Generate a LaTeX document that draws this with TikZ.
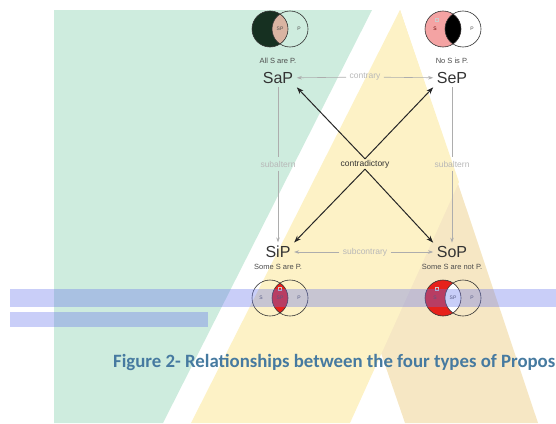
\documentclass[tikz,border=0pt]{standalone}
\usepackage{fontspec}
\setmainfont{Liberation Sans}
\newfontfamily\capfont{Carlito}
\usetikzlibrary{arrows.meta}

\definecolor{mint}{RGB}{206,236,222}
\definecolor{lightsand}{RGB}{253,242,198}
\definecolor{sand}{RGB}{246,231,196}
\definecolor{barblue}{RGB}{100,115,235}
\definecolor{capblue}{RGB}{70,122,160}
\definecolor{vdark}{RGB}{22,48,33}
\definecolor{vtan}{RGB}{217,180,162}
\definecolor{vpink}{RGB}{244,163,163}
\definecolor{vred}{RGB}{230,33,27}

\begin{document}
\begin{tikzpicture}[x=1pt,y=-1pt,
  prop/.style={font=\fontsize{16}{16}\selectfont,text=black!80,inner sep=3.5pt},
  form/.style={font=\fontsize{7.5}{8}\selectfont,text=black!70},
  rel/.style={font=\fontsize{8.5}{9}\selectfont,text=black!28},
  tiny/.style={font=\fontsize{5}{5}\selectfont,text=black!70,inner sep=0pt},
  faint/.style={draw=black!32,line width=0.6pt,-{Stealth[length=5pt,width=3.5pt]}},
  strong/.style={draw=black!85,line width=1pt,-{Stealth[length=7pt,width=5pt]}},
  venn/.style={draw=black!80,line width=0.6pt},
  flag/.style={draw=white!80!black,line width=0.3pt}]
\useasboundingbox (0,0) rectangle (556,423);
\clip (0,0) rectangle (556,423);

% Background shapes
\fill[mint] (54,10) -- (372,10) -- (163,423) -- (54,423) -- cycle;
\fill[sand] (400,10) -- (538,423) -- (405,423) -- (381,353) -- cycle;
\fill[lightsand] (400,10) -- (191,423) -- (350,423) -- (459,182) -- cycle;

% Venn diagram - SaP
\coordinate (aS) at (270,29);
\coordinate (aP) at (290,29);
\fill[vdark] (aS) circle (18pt);
\begin{scope}
  \clip (aS) circle (18pt);
  \fill[vtan] (aP) circle (18pt);
\end{scope}
\draw[venn] (aS) circle (18pt) (aP) circle (18pt);
\node[tiny] (aSP) at (280,29) {SP};
\node[tiny] (aPP) at (299,29) {P};

% Venn diagram - SeP
\coordinate (eS) at (443,29);
\coordinate (eP) at (463,29);
\fill[vpink] (eS) circle (18pt);
\begin{scope}
  \clip (eS) circle (18pt);
  \fill[black] (eP) circle (18pt);
\end{scope}
\draw[venn] (eS) circle (18pt) (eP) circle (18pt);
\draw[flag] (435.5,18.5) rectangle (438.5,21.5);
\node[tiny,text=red!40!black] (eSS) at (435,29) {S};
\node[tiny] (ePP) at (472,29) {P};

% Venn diagram - SiP
\coordinate (iS) at (270,298);
\coordinate (iP) at (290,298);
\begin{scope}
  \clip (iS) circle (18pt);
  \fill[vred] (iP) circle (18pt);
\end{scope}
\draw[venn] (iS) circle (18pt) (iP) circle (18pt);
\draw[flag] (278.5,287.5) rectangle (281.5,290.5);
\node[tiny] (iSS) at (261,298) {S};
\node[tiny] (iSP) at (280,298) {SP};
\node[tiny] (iPP) at (299,298) {P};

% Venn diagram - SoP
\coordinate (oS) at (443,298);
\coordinate (oP) at (463,298);
\fill[vred] (oS) circle (18pt);
\begin{scope}
  \clip (oS) circle (18pt);
  \fill[white] (oP) circle (18pt);
\end{scope}
\draw[venn] (oS) circle (18pt) (oP) circle (18pt);
\draw[flag] (435.5,287.5) rectangle (438.5,290.5);
\node[tiny] (oSS) at (435,298) {S};
\node[tiny] (oSP) at (453,298) {SP};
\node[tiny] (oPP) at (472,298) {P};

% The four propositions
\node[prop] (SaP) at (278,78) {SaP};
\node[prop] (SeP) at (452,78) {SeP};
\node[prop] (SiP) at (278,252) {SiP};
\node[prop] (SoP) at (452,252) {SoP};
\node[form] (aform) at (278,61) {All S are P.};
\node[form] (eform) at (452,61) {No S is P.};
\node[form] (iform) at (278,267) {Some S are P.};
\node[form] (oform) at (452,267) {Some S are not P.};

% Relation labels
\node[rel] (contrary) at (365,77) {contrary};
\node[rel] (subcontrary) at (365,252) {subcontrary};
\node[rel] (subL) at (278,164) {subaltern};
\node[rel] (subR) at (452,164) {subaltern};
\node[font=\fontsize{8.5}{9}\selectfont,text=black!80,inner sep=1pt] (contra) at (365,164) {contradictory};

% Contrary and subcontrary
\draw[faint] (contrary) -- (SaP);
\draw[faint] (contrary) -- (SeP);
\draw[faint] (subcontrary) -- (SiP);
\draw[faint] (subcontrary) -- (SoP);

% Subaltern
\draw[faint,-] (SaP) -- (subL);
\draw[faint] (subL) -- (SiP);
\draw[faint,-] (SeP) -- (subR);
\draw[faint] (subR) -- (SoP);

% Contradictory
\draw[strong] (contra.north) -- (SaP.south east);
\draw[strong] (contra.north) -- (SeP.south west);
\draw[strong] (contra.south) -- (SiP.north east);
\draw[strong] (contra.south) -- (SoP.north west);

% Highlight bars
\fill[barblue,opacity=0.35] (10,289) rectangle (556,307);
\fill[barblue,opacity=0.35] (10,312) rectangle (208,327);

% Caption
\node[anchor=base west,inner sep=0pt,text=capblue,
  font=\capfont\bfseries\fontsize{18.8}{18.8}\selectfont] (caption) at (113,367)
  {Figure 2- Relationships between the four types of Propos};
\end{tikzpicture}
\end{document}
